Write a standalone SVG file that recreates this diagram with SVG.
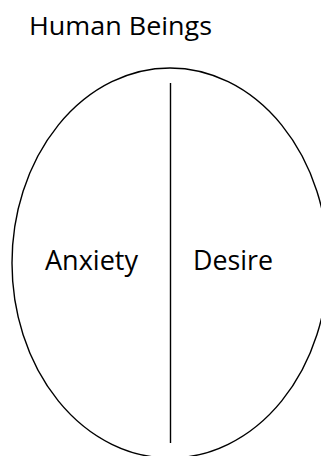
<svg xmlns="http://www.w3.org/2000/svg" width="321" height="456" viewBox="0 0 321 456">
<style>
.t{font-family:"Open Sans","Liberation Sans",sans-serif;font-size:26px;fill:#000}
.b{font-size:27px}
.s{fill:none;stroke:#000;stroke-width:1.4}
</style>
<rect width="321" height="456" fill="#fff"/>
<g id="title"><text class="t" x="29" y="35" textLength="183" lengthAdjust="spacingAndGlyphs">Human Beings</text></g>
<g id="being"><ellipse class="s" cx="170" cy="263" rx="158" ry="195"/></g>
<g id="connectors"><line class="s" x1="170.5" y1="83" x2="170.5" y2="443"/></g>
<g id="anxiety"><text class="t b" x="45" y="270" textLength="93" lengthAdjust="spacingAndGlyphs">Anxiety</text></g>
<g id="desire"><text class="t b" x="193" y="270" textLength="80" lengthAdjust="spacingAndGlyphs">Desire</text></g>
</svg>
